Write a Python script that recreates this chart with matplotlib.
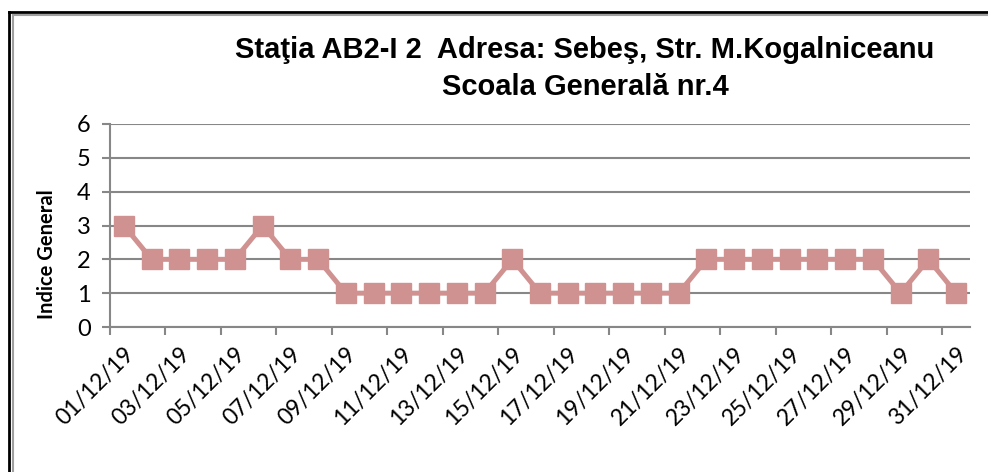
import numpy as np
import matplotlib
matplotlib.use("Agg")
import matplotlib.pyplot as plt
from matplotlib.lines import Line2D
from matplotlib.ticker import FixedLocator

# daily values, December 2019
days = ["%02d/12/19" % d for d in range(1, 32)]
indice = [3, 2, 2, 2, 2, 3, 2, 2, 1, 1, 1, 1, 1, 1, 2, 1, 1, 1, 1, 1, 1,
          2, 2, 2, 2, 2, 2, 2, 1, 2, 1]
yticks = [0, 1, 2, 3, 4, 5, 6]

title1 = "Staţia AB2-I 2  Adresa: Sebeş, Str. M.Kogalniceanu"
title2 = "Scoala Generală nr.4"

W, H = 988, 472
fig = plt.figure(figsize=(W / 100, H / 100), dpi=100)
ax = fig.add_axes([110 / W, 1 - 327 / H, 860 / W, 203 / H])

x = np.arange(len(days))
col = "#d09191"
ax.plot(x, indice, color=col, lw=3.6, marker="s", ms=14, mec=col, mfc=col,
        solid_joinstyle="miter", zorder=3, clip_on=False)

ax.set_xlim(-0.5, len(days) - 0.5)
ax.set_ylim(0, 6)
grey = "#878787"
ax.set_yticks(yticks)
ax.grid(axis="y", color=grey, lw=1.5)
ax.set_axisbelow(True)
for s in ["top", "right"]:
    ax.spines[s].set_visible(False)
for s in ["left", "bottom"]:
    ax.spines[s].set_color(grey)
    ax.spines[s].set_linewidth(1.5)

# tick marks between categories, labels on every second day
ax.xaxis.set_major_locator(FixedLocator(np.arange(-0.5, len(days) - 0.5, 2)))
ax.xaxis.set_major_formatter(plt.NullFormatter())
ax.xaxis.set_minor_locator(FixedLocator(x[::2]))
ax.set_xticklabels([days[i] for i in x[::2]], minor=True)
ax.tick_params(axis="x", which="major", length=6, width=1.5, color=grey, direction="out")
ax.tick_params(axis="x", which="minor", length=0, pad=12)
for lb in ax.get_xticklabels(minor=True):
    lb.set_rotation(45)
    lb.set_ha("right")
    lb.set_va("top")
    lb.set_rotation_mode("anchor")
    lb.set_fontfamily("Lato")
    lb.set_fontsize(16.5)
ax.tick_params(axis="y", length=6, width=1.5, color=grey, pad=8, labelsize=17)
for lb in ax.get_yticklabels():
    lb.set_fontfamily("Lato")

ax.set_ylabel("Indice General", fontfamily="Lato", fontweight="bold", fontsize=14.5)
ax.yaxis.set_label_coords(-0.062, 0.36)

fig.text(585 / W, 1 - 58 / H, title1, ha="center", va="baseline",
         fontfamily="Liberation Sans", fontweight="bold", fontsize=21)
fig.text(585 / W, 1 - 95 / H, title2, ha="center", va="baseline",
         fontfamily="Liberation Sans", fontweight="bold", fontsize=21)

# page frame, top and left
fig.add_artist(Line2D([9 / W, 9 / W], [0, 1 - 12 / H], color="black", lw=2, transform=fig.transFigure))
fig.add_artist(Line2D([9 / W, 1], [1 - 12 / H, 1 - 12 / H], color="black", lw=2, transform=fig.transFigure))
fig.add_artist(Line2D([13 / W, 13 / W], [0, 1 - 15 / H], color="#a0a0a0", lw=1.5, transform=fig.transFigure))
fig.add_artist(Line2D([13 / W, 1], [1 - 15 / H, 1 - 15 / H], color="#a0a0a0", lw=1.5, transform=fig.transFigure))

fig.savefig("out.png", dpi=100)
